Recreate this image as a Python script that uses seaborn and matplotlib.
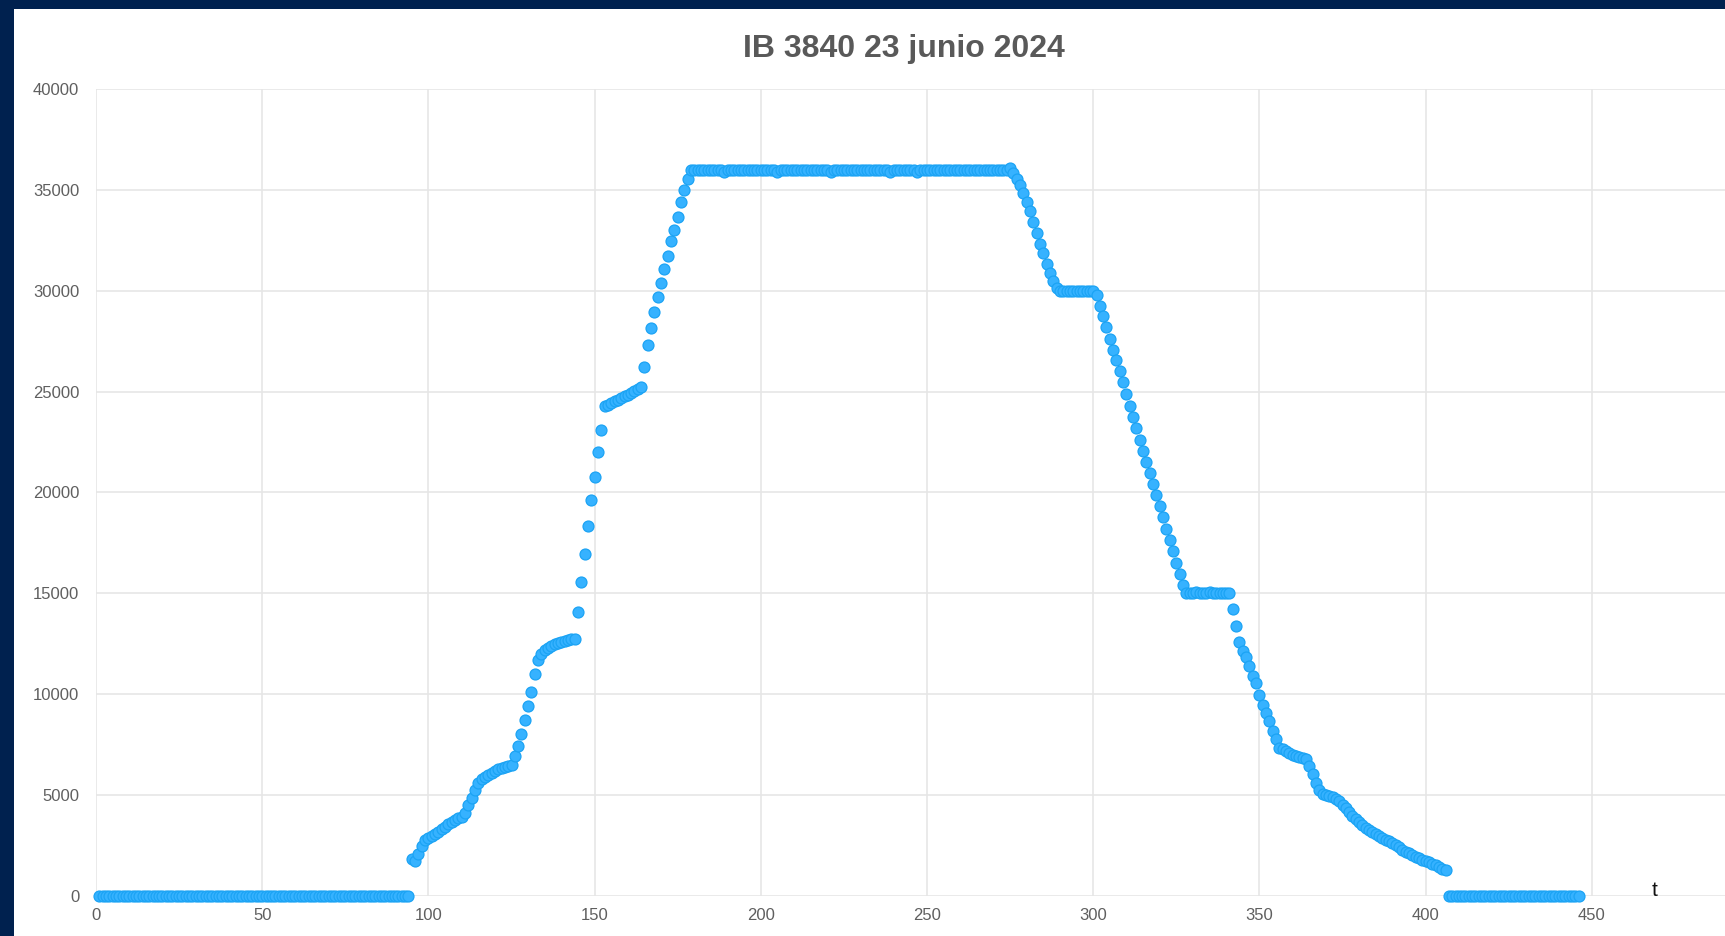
import numpy as np
import pandas as pd
import matplotlib
matplotlib.use('Agg')
import matplotlib.pyplot as plt
from matplotlib.patches import Rectangle
import seaborn as sns

# ------------------------------------------------------------
# datos: altitud (ft) por muestra t
# ------------------------------------------------------------
ground_start = [0] * 94          # t = 1 .. 94

climb = [                         # t = 95 .. 179
    1820, 1720, 2050, 2450, 2750, 2850, 2950, 3060, 3180, 3300,
    3430, 3550, 3650, 3740, 3830, 3920, 4100, 4480, 4850, 5230,
    5600, 5800, 5900, 6000, 6090, 6180, 6260, 6320, 6390, 6450,
    6500, 6950, 7400, 8000, 8700, 9400, 10100, 11000, 11700, 11980,
    12170, 12300, 12400, 12480, 12550, 12600, 12630, 12680, 12710, 12740,
    14050, 15550, 16950, 18330, 19610, 20750, 21990, 23080, 24270, 24350,
    24430, 24520, 24600, 24680, 24770, 24850, 24930, 25020, 25100, 25200,
    26200, 27290, 28150, 28930, 29670, 30380, 31070, 31700, 32440, 33020,
    33630, 34420, 34970, 35530, 35960,
]

cruise = [                        # t = 180 .. 274
    36000, 36000, 36000, 36000, 36000, 36000, 36000, 36000, 36000, 35900,
    36000, 36000, 36000, 36000, 36000, 36000, 36000, 36000, 36000, 36000,
    36000, 36000, 36000, 36000, 36000, 35900, 36000, 36000, 36000, 36000,
    36000, 36000, 36000, 36000, 36000, 36000, 36000, 36000, 36000, 36000,
    36000, 35900, 36000, 36000, 36000, 36000, 36000, 36000, 36000, 36000,
    36000, 36000, 36000, 36000, 36000, 36000, 36000, 36000, 36000, 35900,
    36000, 36000, 36000, 36000, 36000, 36000, 36000, 35900, 36000, 36000,
    36000, 36000, 36000, 36000, 36000, 36000, 36000, 36000, 36000, 36000,
    36000, 36000, 36000, 36000, 36000, 36000, 36000, 36000, 36000, 36000,
    36000, 36000, 36000, 36000, 36000,
]

descent = [                       # t = 275 .. 406
    36070, 35820, 35530, 35250, 34840, 34420, 33930, 33390, 32860, 32320,
    31870, 31300, 30880, 30470, 30140,
    30000, 30000, 30000, 30000, 30000, 30000, 30000, 30000, 30000, 30000, 30000,
    29780, 29250, 28730, 28180, 27620, 27080, 26540, 26000, 25460, 24880,
    24300, 23740, 23180, 22620, 22060, 21500, 20950, 20400, 19850, 19300,
    18760, 18200, 17630, 17070, 16500, 15960, 15400,
    15000, 15000, 15000, 15050, 15000, 15000, 15000, 15050, 15000, 15000,
    15000, 15000, 15000, 15000,
    14200, 13350, 12580, 12150, 11850, 11400, 10900, 10550, 9950, 9450,
    9080, 8670, 8170, 7750, 7340, 7250, 7170, 7080, 7000, 6950,
    6900, 6840, 6770, 6450, 6020, 5600, 5250, 5050, 4990, 4930,
    4870, 4780, 4680, 4520, 4350, 4140, 3930, 3780, 3640, 3490,
    3350, 3240, 3140, 3040, 2940, 2850, 2770, 2690, 2610, 2500,
    2390, 2290, 2190, 2100, 2025, 1940, 1860, 1790, 1730, 1650,
    1580, 1500, 1410, 1340, 1280,
]

ground_end = [0] * 40            # t = 407 .. 446

x_ticks = [0, 50, 100, 150, 200, 250, 300, 350, 400, 450, 500]
y_ticks = [0, 5000, 10000, 15000, 20000, 25000, 30000, 35000, 40000]

altitud = ground_start + climb + cruise + descent + ground_end
df = pd.DataFrame({'t': np.arange(1, len(altitud) + 1), 'alt': altitud})

# ------------------------------------------------------------
# figura
# ------------------------------------------------------------
sns.set_theme(style='whitegrid')
plt.rcParams['font.family'] = ['Liberation Sans', 'DejaVu Sans']

W, H = 1725, 936
fig = plt.figure(figsize=(W / 100, H / 100), dpi=100, facecolor='white')

# marco azul oscuro (captura de pantalla)
fig.patches.append(Rectangle((0, 1 - 9 / H), 1, 9 / H, transform=fig.transFigure,
                             facecolor='#00214f', edgecolor='none', zorder=0))
fig.patches.append(Rectangle((0, 0), 14 / W, 1, transform=fig.transFigure,
                             facecolor='#00214f', edgecolor='none', zorder=0))

ax_left, ax_right = 96, 1758
ax_top, ax_bottom = 89, 895.7
ax = fig.add_axes([ax_left / W, (H - ax_bottom) / H,
                   (ax_right - ax_left) / W, (ax_bottom - ax_top) / H])
ax.set_facecolor('white')

sns.scatterplot(data=df, x='t', y='alt', ax=ax, s=62, color='#36b2ff',
                edgecolor='#1ba3f4', linewidth=0.9, clip_on=False, zorder=3)

ax.set_xlim(0, 500)
ax.set_ylim(0, 40000)
ax.set_xticks(x_ticks)
ax.set_yticks(y_ticks)
ax.set_xticklabels([str(v) if v < 500 else '' for v in x_ticks])
ax.grid(True, color='#e6e6e6', linewidth=1.2)
for sp in ax.spines.values():
    sp.set_visible(False)
ax.tick_params(axis='both', length=0, labelsize=12, labelcolor='#5f5f5f')
ax.tick_params(axis='y', pad=12)
ax.tick_params(axis='x', pad=9)
ax.set_xlabel('')
ax.set_ylabel('')

ax.text(469, 0, 't', ha='center', va='baseline', fontsize=15, color='#111111')

fig.text(904 / W, 1 - 49 / H, 'IB 3840 23 junio 2024', ha='center', va='center',
         fontsize=23, fontweight='bold', color='#595959')

plt.savefig('out.png', dpi=100, facecolor='white')
plt.close()
